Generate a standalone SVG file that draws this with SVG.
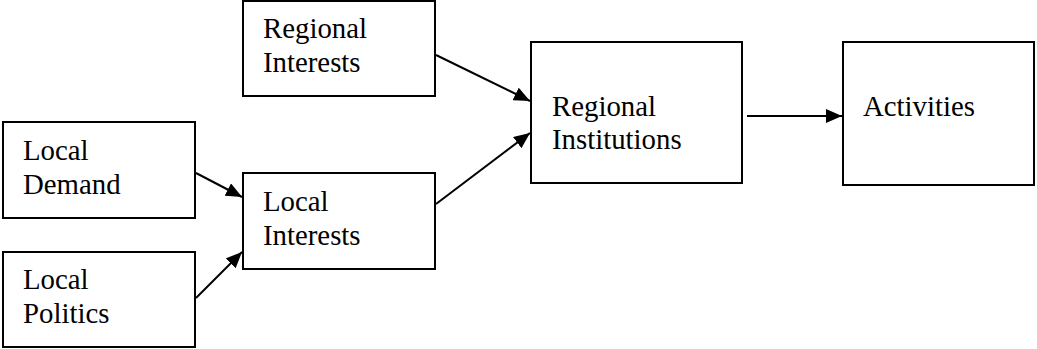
<svg xmlns="http://www.w3.org/2000/svg" width="1037" height="349" viewBox="0 0 1037 349">
<defs>
<style>
.box{fill:#fff;stroke:#000;stroke-width:2}
.lbl{font-family:"Liberation Serif","Times New Roman",serif;font-size:28.8px;fill:#000}
.edge{stroke:#000;stroke-width:2;fill:none;marker-end:url(#ah)}
</style>
<marker id="ah" viewBox="0 0 16 14" refX="16" refY="7" markerWidth="16" markerHeight="14" markerUnits="userSpaceOnUse" orient="auto">
<path d="M0,0 L16,7 L0,14 Z" fill="#000"/>
</marker>
</defs>
<rect width="1037" height="349" fill="#fff"/>
<g id="regional-interests">
<rect class="box" x="243" y="1" width="192" height="95"/>
<text class="lbl" x="263" y="38">Regional</text>
<text class="lbl" x="263" y="72">Interests</text>
</g>
<g id="local-demand">
<rect class="box" x="3" y="122" width="192" height="96"/>
<text class="lbl" x="23" y="160">Local</text>
<text class="lbl" x="23" y="194">Demand</text>
</g>
<g id="local-politics">
<rect class="box" x="3" y="252" width="192" height="95"/>
<text class="lbl" x="23" y="289">Local</text>
<text class="lbl" x="23" y="323">Politics</text>
</g>
<g id="local-interests">
<rect class="box" x="243" y="173" width="192" height="96"/>
<text class="lbl" x="263" y="211">Local</text>
<text class="lbl" x="263" y="245">Interests</text>
</g>
<g id="regional-institutions">
<rect class="box" x="531" y="42" width="211" height="141"/>
<text class="lbl" x="552" y="116">Regional</text>
<text class="lbl" x="552" y="149">Institutions</text>
</g>
<g id="activities">
<rect class="box" x="843" y="42" width="191" height="143"/>
<text class="lbl" x="863" y="116">Activities</text>
</g>
<g id="connectors">
<line class="edge" x1="436" y1="55" x2="530" y2="101"/>
<line class="edge" x1="436" y1="204" x2="530" y2="133"/>
<line class="edge" x1="196" y1="173" x2="242" y2="197"/>
<line class="edge" x1="196" y1="298" x2="242" y2="252"/>
<line class="edge" x1="747" y1="116" x2="842" y2="116"/>
</g>
</svg>
